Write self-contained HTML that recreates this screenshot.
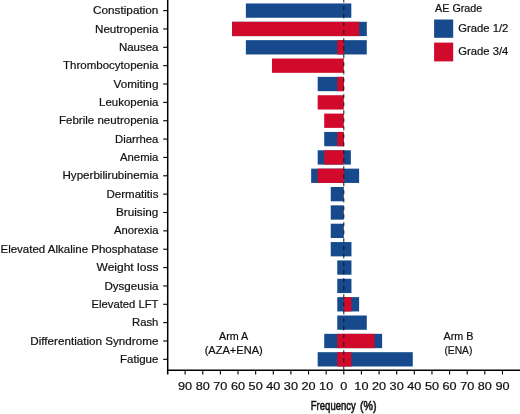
<!DOCTYPE html>
<html lang="en"><head><meta charset="utf-8"><title>AE frequency by arm</title>
<style>
html,body{margin:0;padding:0;background:#fff;}
body{width:520px;height:414px;overflow:hidden;}
svg{display:block;}
text{font-family:"Liberation Sans",Arial,Helvetica,sans-serif;fill:#111;stroke:#111;stroke-width:0.2px;}
</style></head><body>
<svg width="520" height="414" viewBox="0 0 520 414">
<rect width="520" height="414" fill="#fff"/>
<g shape-rendering="auto">
<rect x="245.85" y="3.45" width="105.46" height="14.3" fill="#164a8c"/>
<rect x="232.14" y="21.80" width="134.66" height="14.3" fill="#164a8c"/>
<rect x="232.14" y="21.80" width="126.99" height="14.3" fill="#d10a2c"/>
<rect x="245.85" y="40.16" width="120.94" height="14.3" fill="#164a8c"/>
<rect x="337.27" y="40.16" width="6.53" height="14.3" fill="#d10a2c"/>
<rect x="271.97" y="58.52" width="71.83" height="14.3" fill="#d10a2c"/>
<rect x="317.68" y="76.87" width="26.12" height="14.3" fill="#164a8c"/>
<rect x="337.27" y="76.87" width="6.53" height="14.3" fill="#d10a2c"/>
<rect x="317.68" y="95.23" width="26.12" height="14.3" fill="#d10a2c"/>
<rect x="324.21" y="113.58" width="19.59" height="14.3" fill="#d10a2c"/>
<rect x="324.21" y="131.94" width="19.59" height="14.3" fill="#164a8c"/>
<rect x="337.27" y="131.94" width="6.53" height="14.3" fill="#d10a2c"/>
<rect x="317.68" y="150.29" width="33.17" height="14.3" fill="#164a8c"/>
<rect x="324.21" y="150.29" width="19.59" height="14.3" fill="#d10a2c"/>
<rect x="311.15" y="168.64" width="47.98" height="14.3" fill="#164a8c"/>
<rect x="317.68" y="168.64" width="26.12" height="14.3" fill="#d10a2c"/>
<rect x="330.74" y="187.00" width="13.06" height="14.3" fill="#164a8c"/>
<rect x="330.74" y="205.35" width="13.06" height="14.3" fill="#164a8c"/>
<rect x="330.74" y="223.71" width="13.06" height="14.3" fill="#164a8c"/>
<rect x="330.74" y="242.06" width="20.73" height="14.3" fill="#164a8c"/>
<rect x="337.27" y="260.42" width="14.19" height="14.3" fill="#164a8c"/>
<rect x="337.27" y="278.77" width="14.19" height="14.3" fill="#164a8c"/>
<rect x="337.27" y="297.13" width="21.86" height="14.3" fill="#164a8c"/>
<rect x="343.80" y="297.13" width="7.67" height="14.3" fill="#d10a2c"/>
<rect x="337.27" y="315.49" width="29.52" height="14.3" fill="#164a8c"/>
<rect x="324.21" y="333.84" width="57.91" height="14.3" fill="#164a8c"/>
<rect x="337.27" y="333.84" width="37.19" height="14.3" fill="#d10a2c"/>
<rect x="317.68" y="352.19" width="95.11" height="14.3" fill="#164a8c"/>
<rect x="337.27" y="352.19" width="14.19" height="14.3" fill="#d10a2c"/>
</g>
<line x1="343.8" y1="370.4" x2="343.8" y2="0" stroke="#151515" stroke-width="1" stroke-dasharray="4.2 3.8"/>
<g stroke="#000" fill="none">
<line x1="167.7" y1="0" x2="167.7" y2="374.5" stroke-width="1.5"/>
<line x1="166.95" y1="370.35" x2="520" y2="370.35" stroke-width="1.5"/>
<line x1="163.2" y1="10.60" x2="167.7" y2="10.60" stroke-width="1.1"/>
<line x1="163.2" y1="28.95" x2="167.7" y2="28.95" stroke-width="1.1"/>
<line x1="163.2" y1="47.31" x2="167.7" y2="47.31" stroke-width="1.1"/>
<line x1="163.2" y1="65.67" x2="167.7" y2="65.67" stroke-width="1.1"/>
<line x1="163.2" y1="84.02" x2="167.7" y2="84.02" stroke-width="1.1"/>
<line x1="163.2" y1="102.38" x2="167.7" y2="102.38" stroke-width="1.1"/>
<line x1="163.2" y1="120.73" x2="167.7" y2="120.73" stroke-width="1.1"/>
<line x1="163.2" y1="139.09" x2="167.7" y2="139.09" stroke-width="1.1"/>
<line x1="163.2" y1="157.44" x2="167.7" y2="157.44" stroke-width="1.1"/>
<line x1="163.2" y1="175.79" x2="167.7" y2="175.79" stroke-width="1.1"/>
<line x1="163.2" y1="194.15" x2="167.7" y2="194.15" stroke-width="1.1"/>
<line x1="163.2" y1="212.50" x2="167.7" y2="212.50" stroke-width="1.1"/>
<line x1="163.2" y1="230.86" x2="167.7" y2="230.86" stroke-width="1.1"/>
<line x1="163.2" y1="249.22" x2="167.7" y2="249.22" stroke-width="1.1"/>
<line x1="163.2" y1="267.57" x2="167.7" y2="267.57" stroke-width="1.1"/>
<line x1="163.2" y1="285.92" x2="167.7" y2="285.92" stroke-width="1.1"/>
<line x1="163.2" y1="304.28" x2="167.7" y2="304.28" stroke-width="1.1"/>
<line x1="163.2" y1="322.63" x2="167.7" y2="322.63" stroke-width="1.1"/>
<line x1="163.2" y1="340.99" x2="167.7" y2="340.99" stroke-width="1.1"/>
<line x1="163.2" y1="359.34" x2="167.7" y2="359.34" stroke-width="1.1"/>
<line x1="185.13" y1="370.35" x2="185.13" y2="374.5" stroke-width="1.1"/>
<line x1="202.76" y1="370.35" x2="202.76" y2="374.5" stroke-width="1.1"/>
<line x1="220.39" y1="370.35" x2="220.39" y2="374.5" stroke-width="1.1"/>
<line x1="238.02" y1="370.35" x2="238.02" y2="374.5" stroke-width="1.1"/>
<line x1="255.65" y1="370.35" x2="255.65" y2="374.5" stroke-width="1.1"/>
<line x1="273.28" y1="370.35" x2="273.28" y2="374.5" stroke-width="1.1"/>
<line x1="290.91" y1="370.35" x2="290.91" y2="374.5" stroke-width="1.1"/>
<line x1="308.54" y1="370.35" x2="308.54" y2="374.5" stroke-width="1.1"/>
<line x1="326.17" y1="370.35" x2="326.17" y2="374.5" stroke-width="1.1"/>
<line x1="343.80" y1="370.35" x2="343.80" y2="374.5" stroke-width="1.1"/>
<line x1="361.43" y1="370.35" x2="361.43" y2="374.5" stroke-width="1.1"/>
<line x1="379.06" y1="370.35" x2="379.06" y2="374.5" stroke-width="1.1"/>
<line x1="396.69" y1="370.35" x2="396.69" y2="374.5" stroke-width="1.1"/>
<line x1="414.32" y1="370.35" x2="414.32" y2="374.5" stroke-width="1.1"/>
<line x1="431.95" y1="370.35" x2="431.95" y2="374.5" stroke-width="1.1"/>
<line x1="449.58" y1="370.35" x2="449.58" y2="374.5" stroke-width="1.1"/>
<line x1="467.21" y1="370.35" x2="467.21" y2="374.5" stroke-width="1.1"/>
<line x1="484.84" y1="370.35" x2="484.84" y2="374.5" stroke-width="1.1"/>
<line x1="502.47" y1="370.35" x2="502.47" y2="374.5" stroke-width="1.1"/>
</g>
<g font-size="10.8">
<text x="93" y="14.20" textLength="65.4" lengthAdjust="spacingAndGlyphs">Constipation</text>
<text x="95" y="32.55" textLength="63.4" lengthAdjust="spacingAndGlyphs">Neutropenia</text>
<text x="119" y="50.91" textLength="39.4" lengthAdjust="spacingAndGlyphs">Nausea</text>
<text x="63" y="69.27" textLength="95.4" lengthAdjust="spacingAndGlyphs">Thrombocytopenia</text>
<text x="113.5" y="87.62" textLength="44.9" lengthAdjust="spacingAndGlyphs">Vomiting</text>
<text x="99" y="105.98" textLength="59.4" lengthAdjust="spacingAndGlyphs">Leukopenia</text>
<text x="59" y="124.33" textLength="99.4" lengthAdjust="spacingAndGlyphs">Febrile neutropenia</text>
<text x="115" y="142.69" textLength="43.4" lengthAdjust="spacingAndGlyphs">Diarrhea</text>
<text x="120" y="161.04" textLength="38.4" lengthAdjust="spacingAndGlyphs">Anemia</text>
<text x="62.5" y="179.39" textLength="95.9" lengthAdjust="spacingAndGlyphs">Hyperbilirubinemia</text>
<text x="106.5" y="197.75" textLength="51.9" lengthAdjust="spacingAndGlyphs">Dermatitis</text>
<text x="116" y="216.10" textLength="42.4" lengthAdjust="spacingAndGlyphs">Bruising</text>
<text x="114" y="234.46" textLength="44.4" lengthAdjust="spacingAndGlyphs">Anorexia</text>
<text x="0.5" y="252.81" textLength="157.9" lengthAdjust="spacingAndGlyphs">Elevated Alkaline Phosphatase</text>
<text x="96.5" y="271.17" textLength="61.9" lengthAdjust="spacingAndGlyphs">Weight loss</text>
<text x="104.4" y="289.52" textLength="54.0" lengthAdjust="spacingAndGlyphs">Dysgeusia</text>
<text x="91.5" y="307.88" textLength="66.9" lengthAdjust="spacingAndGlyphs">Elevated LFT</text>
<text x="132" y="326.24" textLength="26.4" lengthAdjust="spacingAndGlyphs">Rash</text>
<text x="30.3" y="344.59" textLength="128.1" lengthAdjust="spacingAndGlyphs">Differentiation Syndrome</text>
<text x="120" y="362.94" textLength="38.4" lengthAdjust="spacingAndGlyphs">Fatigue</text>
</g>
<g font-size="10.2" text-anchor="middle">
<text x="185.13" y="389.9" textLength="14.1" lengthAdjust="spacingAndGlyphs">90</text>
<text x="202.76" y="389.9" textLength="14.1" lengthAdjust="spacingAndGlyphs">80</text>
<text x="220.39" y="389.9" textLength="14.1" lengthAdjust="spacingAndGlyphs">70</text>
<text x="238.02" y="389.9" textLength="14.1" lengthAdjust="spacingAndGlyphs">60</text>
<text x="255.65" y="389.9" textLength="14.1" lengthAdjust="spacingAndGlyphs">50</text>
<text x="273.28" y="389.9" textLength="14.1" lengthAdjust="spacingAndGlyphs">40</text>
<text x="290.91" y="389.9" textLength="14.1" lengthAdjust="spacingAndGlyphs">30</text>
<text x="308.54" y="389.9" textLength="14.1" lengthAdjust="spacingAndGlyphs">20</text>
<text x="326.17" y="389.9" textLength="14.1" lengthAdjust="spacingAndGlyphs">10</text>
<text x="343.80" y="389.9" textLength="7.0" lengthAdjust="spacingAndGlyphs">0</text>
<text x="361.43" y="389.9" textLength="14.1" lengthAdjust="spacingAndGlyphs">10</text>
<text x="379.06" y="389.9" textLength="14.1" lengthAdjust="spacingAndGlyphs">20</text>
<text x="396.69" y="389.9" textLength="14.1" lengthAdjust="spacingAndGlyphs">30</text>
<text x="414.32" y="389.9" textLength="14.1" lengthAdjust="spacingAndGlyphs">40</text>
<text x="431.95" y="389.9" textLength="14.1" lengthAdjust="spacingAndGlyphs">50</text>
<text x="449.58" y="389.9" textLength="14.1" lengthAdjust="spacingAndGlyphs">60</text>
<text x="467.21" y="389.9" textLength="14.1" lengthAdjust="spacingAndGlyphs">70</text>
<text x="484.84" y="389.9" textLength="14.1" lengthAdjust="spacingAndGlyphs">80</text>
<text x="502.47" y="389.9" textLength="14.1" lengthAdjust="spacingAndGlyphs">90</text>
</g>
<text y="410" font-size="13.2" style="stroke-width:0.55px"><tspan x="310.8" textLength="45" lengthAdjust="spacingAndGlyphs">Frequency</tspan><tspan> </tspan><tspan x="360" textLength="16.6" lengthAdjust="spacingAndGlyphs">(%)</tspan></text>
<g font-size="10.2">
<text x="219.0" y="340.4" textLength="29.2" lengthAdjust="spacingAndGlyphs">Arm A</text>
<text x="204.7" y="354.1" textLength="58" lengthAdjust="spacingAndGlyphs">(AZA+ENA)</text>
<text x="443.5" y="340.4" textLength="30" lengthAdjust="spacingAndGlyphs">Arm B</text>
<text x="444.4" y="354.1" textLength="28" lengthAdjust="spacingAndGlyphs">(ENA)</text>
</g>
<g font-size="10.6">
<text x="435.1" y="11.7" textLength="47.1" lengthAdjust="spacingAndGlyphs">AE Grade</text>
<rect x="434.1" y="19.5" width="19.1" height="18.3" fill="#164a8c"/>
<rect x="434.1" y="42.6" width="19.1" height="18.8" fill="#d10a2c"/>
<text x="458.2" y="31.8" textLength="50.2" lengthAdjust="spacingAndGlyphs">Grade 1/2</text>
<text x="458.2" y="55.4" textLength="50.2" lengthAdjust="spacingAndGlyphs">Grade 3/4</text>
</g>
</svg>
</body></html>
